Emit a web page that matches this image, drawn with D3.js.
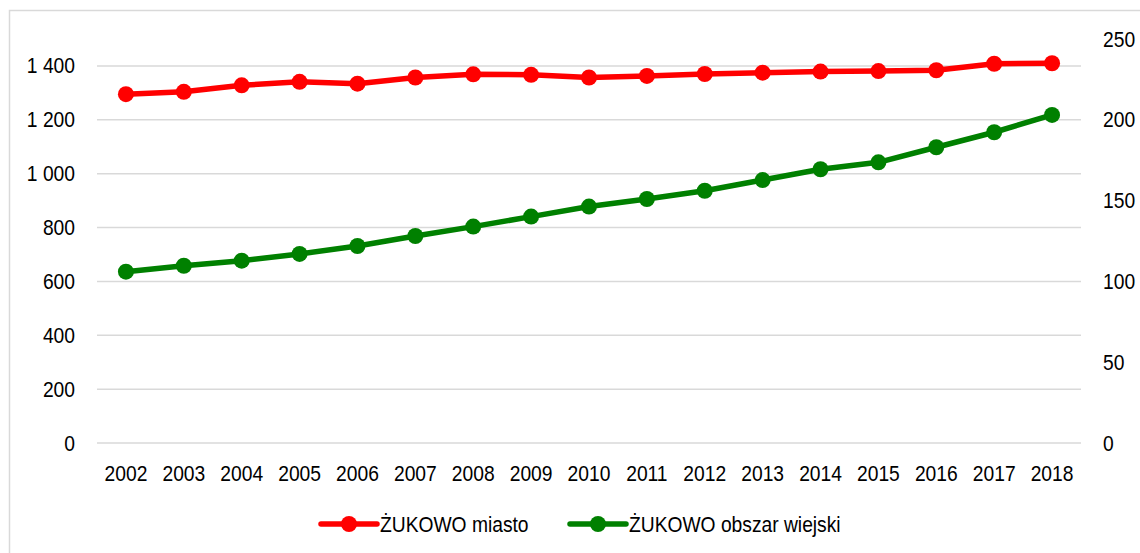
<!DOCTYPE html>
<html>
<head>
<meta charset="utf-8">
<script src="https://cdn.jsdelivr.net/npm/d3@7"></script>
<style>
  body { margin: 0; background: #fff; }
  svg text { font-family: "Liberation Sans", Arial, sans-serif; fill: #000; }
</style>
</head>
<body>
<div id="chart"></div>
<script>
var years = ["2002","2003","2004","2005","2006","2007","2008","2009","2010","2011","2012","2013","2014","2015","2016","2017","2018"];
var miasto = [1295,1304,1328,1341,1334,1357,1369,1367,1357,1363,1370,1375,1379,1381,1384,1408,1410];
var wiejski = [106.0,109.7,112.8,117.0,121.9,128.1,133.9,140.1,146.3,151.0,156.1,162.7,169.4,173.7,183.0,192.3,203.0];
var leftTicks = [0,200,400,600,800,1000,1200,1400];
var rightTicks = [0,50,100,150,200,250];
var seriesNames = ["ŻUKOWO miasto", "ŻUKOWO obszar wiejski"];
var seriesColors = ["#ff0000", "#008000"];

var W = 1140, H = 553;
var margin = { top: 39, right: 59, bottom: 110, left: 97 },
    width = W - margin.left - margin.right,
    height = H - margin.top - margin.bottom;

// the original labels use a narrow font, squeeze Liberation Sans horizontally
var sx = 0.875;
var fontSize = "22px";

var svgRoot = d3.select("#chart").append("svg")
    .attr("width", W)
    .attr("height", H);

// outer chart frame
svgRoot.append("rect")
    .attr("x", 9.5).attr("y", 10.5)
    .attr("width", W + 20).attr("height", H + 20)
    .attr("fill", "none")
    .attr("stroke", "#d9d9d9")
    .attr("stroke-width", 1.5);

var svg = svgRoot.append("g")
    .attr("transform", "translate(" + margin.left + "," + margin.top + ")");

var x = d3.scaleBand().domain(years).range([0, width]);
var yL = d3.scaleLinear().domain([0, 1500]).range([height, 0]);
var yR = d3.scaleLinear().domain([0, 250]).range([height, 0]);
var fmt = function (d) { return d3.format(",")(d).replace(/,/g, " "); };

// gridlines
svg.append("g")
    .selectAll("line")
    .data(leftTicks)
    .enter()
    .append("line")
    .attr("x1", 0).attr("x2", width)
    .attr("y1", function (d) { return yL(d); })
    .attr("y2", function (d) { return yL(d); })
    .attr("stroke", "#d9d9d9")
    .attr("stroke-width", 1.5);

function squeeze(sel) {
    sel.style("font-size", fontSize)
        .style("font-family", null)
        .attr("x", function () { return (+d3.select(this).attr("x") || 0) / sx; })
        .attr("transform", "scale(" + sx + ",1)");
}

// left axis
var gl = svg.append("g")
    .call(d3.axisLeft(yL).tickValues(leftTicks).tickFormat(fmt).tickSize(0).tickPadding(22));
gl.select(".domain").remove();
gl.selectAll("text").call(squeeze);

// right axis
var gr = svg.append("g")
    .attr("transform", "translate(" + width + ",0)")
    .call(d3.axisRight(yR).tickValues(rightTicks).tickSize(0).tickPadding(22));
gr.select(".domain").remove();
gr.selectAll("text").call(squeeze);

// x axis
var gx = svg.append("g")
    .attr("transform", "translate(0," + height + ")")
    .call(d3.axisBottom(x).tickSize(0).tickPadding(22));
gx.select(".domain").remove();
gx.selectAll("text").call(squeeze);

var cx = function (d, i) { return x(years[i]) + x.bandwidth() / 2; };

function drawSeries(values, scale, color) {
    var line = d3.line()
        .x(function (d, i) { return cx(d, i); })
        .y(function (d) { return scale(d); });
    svg.append("path")
        .datum(values)
        .attr("d", line)
        .attr("fill", "none")
        .attr("stroke", color)
        .attr("stroke-width", 5.5)
        .attr("stroke-linejoin", "round");
    svg.append("g")
        .selectAll("circle")
        .data(values)
        .enter()
        .append("circle")
        .attr("cx", cx)
        .attr("cy", function (d) { return scale(d); })
        .attr("r", 8)
        .attr("fill", color);
}

drawSeries(miasto, yL, seriesColors[0]);
drawSeries(wiejski, yR, seriesColors[1]);

// legend
var legendX = [321, 570];
var legendY = 524;
seriesNames.forEach(function (name, i) {
    var lx = legendX[i];
    svgRoot.append("line")
        .attr("x1", lx).attr("x2", lx + 56)
        .attr("y1", legendY).attr("y2", legendY)
        .attr("stroke", seriesColors[i])
        .attr("stroke-width", 5.5)
        .attr("stroke-linecap", "round");
    svgRoot.append("circle")
        .attr("cx", lx + 28).attr("cy", legendY)
        .attr("r", 8)
        .attr("fill", seriesColors[i]);
    svgRoot.append("text")
        .attr("x", (lx + 59) / sx)
        .attr("y", legendY + 8)
        .attr("transform", "scale(" + sx + ",1)")
        .style("font-size", fontSize)
        .text(name);
});
</script>
</body>
</html>
